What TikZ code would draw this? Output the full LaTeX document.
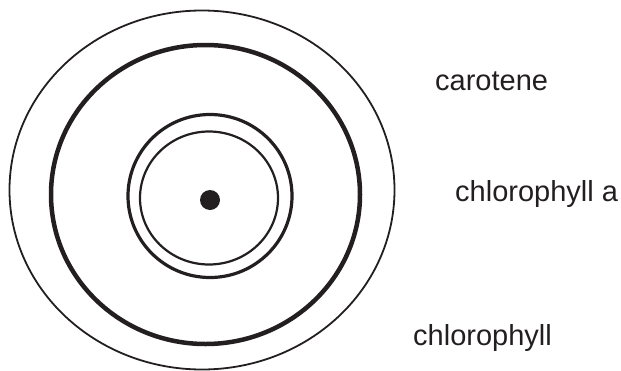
\documentclass[tikz,border=0pt]{standalone}
\usepackage{fontspec}
\setmainfont{Liberation Sans}
\definecolor{ink}{HTML}{231F20}
\begin{document}
\begin{tikzpicture}[x=1pt,y=-1pt,
  ring/.style={draw=ink},
  lbl/.style={anchor=base west,inner sep=0pt,text=ink,font=\fontsize{29}{34}\selectfont}]
\useasboundingbox (0,0) rectangle (621,370);
\draw[ring,line width=1.8pt] (202,190) ellipse [x radius=192.5pt, y radius=179.5pt];
\draw[ring,line width=4.5pt] (205.5,194.5) ellipse [x radius=154.5pt, y radius=149.5pt];
\draw[ring,line width=3.2pt] (210,196) ellipse [x radius=82pt, y radius=81.5pt];
\draw[ring,line width=2.2pt] (209,198) ellipse [x radius=69pt, y radius=66.5pt];
\fill[ink] (210,200) circle [radius=10pt];
\node[lbl] (carotene) at (435,90.5) {carotene};
\node[lbl] (chla) at (455,201.5) {chlorophyll a};
\node[lbl] (chl) at (413,345) {chlorophyll};
\end{tikzpicture}
\end{document}
